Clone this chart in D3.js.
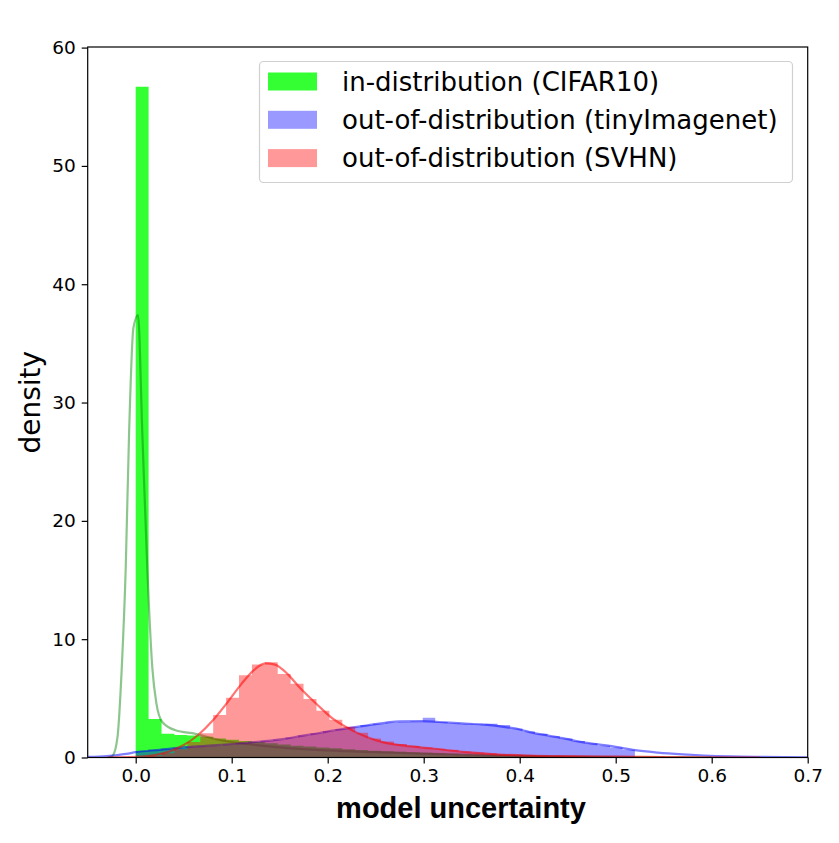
<!DOCTYPE html>
<html>
<head>
<meta charset="utf-8">
<script src="https://cdn.jsdelivr.net/npm/d3@7"></script>
<style>
  body { margin: 0; background: #fff; }
  text { font-family: "DejaVu Sans", sans-serif; }
</style>
</head>
<body>
<script>
// histogram bins (left edge = i * width)
const greenBinWidth = 0.01345;
const greenHist = [56.7, 3.25, 2.0, 1.9, 1.85, 1.75, 1.6, 1.5, 1.4, 1.3, 1.2, 1.1, 1.0, 0.92, 0.85, 0.78,
  0.7, 0.63, 0.57, 0.52, 0.48, 0.44, 0.4, 0.36, 0.32, 0.28, 0.25, 0.22, 0.2, 0.17, 0.15, 0.13, 0.11,
  0.09, 0.08, 0.07, 0.06, 0.05, 0.04, 0.03, 0.02];

const blueBinWidth = 0.013;
const blueHist = [0.55, 0.65, 0.75, 0.8, 0.9, 0.95, 1.0, 1.1, 1.2, 1.3, 1.4, 1.5, 1.7, 1.85, 2.05, 2.25,
  2.4, 2.55, 2.75, 2.85, 2.95, 3.0, 3.05, 3.35, 3.0, 2.9, 2.85, 2.8, 2.85, 2.75, 2.45, 2.2, 2.0, 1.8,
  1.6, 1.4, 1.2, 1.0, 0.85, 0.65];

const redBinWidth = 0.01345;
const redHist = [0.03, 0.12, 0.35, 0.7, 1.3, 2.06, 3.6, 5.06, 6.95, 7.85, 8.05, 7.05, 6.24, 4.95, 3.95,
  3.2, 2.6, 2.1, 1.6, 1.35, 1.15, 0.98, 0.85, 0.75, 0.65, 0.5, 0.42, 0.35, 0.28, 0.24, 0.2, 0.17,
  0.14, 0.12, 0.1, 0.09, 0.08, 0.07, 0.06, 0.06, 0.08];

// kde curves [x, density]
const greenKde = [[-0.028, 0], [-0.024, 0.15], [-0.019, 1.7], [-0.0145, 7.6], [-0.0104, 16], [-0.0069, 27.4],
  [-0.0024, 36.3], [0.0024, 37.4], [0.0069, 27.4], [0.0121, 16], [0.0173, 7.6], [0.0215, 4.6], [0.0277, 3.0],
  [0.0415, 2.3], [0.0622, 2.0], [0.086, 1.5], [0.12, 1.1], [0.15, 0.85], [0.2, 0.6], [0.25, 0.45],
  [0.3, 0.32], [0.35, 0.22], [0.4, 0.14], [0.45, 0.08], [0.5, 0.05], [0.55, 0.02], [0.6, 0]];

const blueKde = [[-0.05, 0.05], [-0.03, 0.12], [-0.01, 0.3], [0.0, 0.45], [0.025, 0.65], [0.052, 0.87],
  [0.08, 1.02], [0.104, 1.16], [0.13, 1.35], [0.155, 1.58], [0.171, 1.8], [0.19, 2.05], [0.207, 2.3],
  [0.24, 2.7], [0.275, 3.05], [0.298, 3.08], [0.316, 3.0], [0.34, 2.88], [0.36, 2.8], [0.385, 2.57],
  [0.4, 2.37], [0.413, 2.1], [0.43, 1.85], [0.447, 1.6], [0.465, 1.3], [0.475, 1.18], [0.5, 0.9],
  [0.52, 0.62], [0.544, 0.42], [0.57, 0.27], [0.592, 0.17], [0.62, 0.09], [0.65, 0.05], [0.7, 0.02]];

const redKde = [[-0.03, 0], [0.0, 0.05], [0.02, 0.2], [0.035, 0.5], [0.05, 1.05], [0.065, 1.9], [0.08, 3.1],
  [0.095, 4.6], [0.11, 6.2], [0.122, 7.3], [0.135, 7.95], [0.145, 7.85], [0.155, 7.3], [0.171, 5.9],
  [0.19, 4.4], [0.205, 3.3], [0.223, 2.4], [0.24, 1.75], [0.257, 1.3], [0.28, 1.0], [0.309, 0.76],
  [0.344, 0.45], [0.378, 0.25], [0.41, 0.16], [0.448, 0.11], [0.5, 0.07], [0.55, 0.04], [0.6, 0.01], [0.65, 0]];

const xTicks = [0.0, 0.1, 0.2, 0.3, 0.4, 0.5, 0.6, 0.7];
const yTicks = [0, 10, 20, 30, 40, 50, 60];
const legendLabels = ["in-distribution (CIFAR10)", "out-of-distribution (tinyImagenet)", "out-of-distribution (SVHN)"];

const width = 839, height = 843;
const plot = {left: 87.7, right: 807.7, top: 47, bottom: 757.5};

const svg = d3.select("body").append("svg")
    .attr("width", width)
    .attr("height", height);

const x = d3.scaleLinear().domain([-0.05, 0.7]).range([plot.left, plot.right]);
const y = d3.scaleLinear().domain([0, 60.05]).range([plot.bottom, plot.top]);

svg.append("clipPath").attr("id", "clip")
  .append("rect")
    .attr("x", plot.left).attr("y", plot.top)
    .attr("width", plot.right - plot.left).attr("height", plot.bottom - plot.top);

const g = svg.append("g").attr("clip-path", "url(#clip)");

const line = d3.line()
    .x(d => x(d[0]))
    .y(d => y(d[1]))
    .curve(d3.curveMonotoneX);

// histogram as one step area so that bars don't show seams
const stepArea = d3.area()
    .x(d => x(d[0]))
    .y0(y(0))
    .y1(d => y(d[1]))
    .curve(d3.curveStepAfter);

function drawDist(hist, binW, kde, color, alpha, lineColor, lineAlpha) {
  const pts = hist.map((h, i) => [i * binW, h]);
  pts.push([hist.length * binW, hist[hist.length - 1]]);

  g.append("path")
    .datum(pts)
    .attr("d", stepArea)
    .attr("fill", color)
    .attr("fill-opacity", alpha);

  g.append("path")
    .datum(kde)
    .attr("d", line)
    .attr("fill", "none")
    .attr("stroke", lineColor)
    .attr("stroke-opacity", lineAlpha)
    .attr("stroke-width", 2.2);
}

drawDist(greenHist, greenBinWidth, greenKde, "#00ff00", 0.8, "#008000", 0.45);
drawDist(blueHist, blueBinWidth, blueKde, "#0000ff", 0.4, "#0000ff", 0.5);
drawDist(redHist, redBinWidth, redKde, "#ff0000", 0.4, "#ff0000", 0.55);

// axes
const xAxis = svg.append("g")
    .attr("transform", `translate(0,${plot.bottom})`)
    .call(d3.axisBottom(x).tickValues(xTicks).tickFormat(d3.format(".1f")).tickSize(6).tickPadding(5));
const yAxis = svg.append("g")
    .attr("transform", `translate(${plot.left},0)`)
    .call(d3.axisLeft(y).tickValues(yTicks).tickSize(6).tickPadding(6));

[xAxis, yAxis].forEach(a => {
  a.select(".domain").remove();
  a.selectAll("line").attr("stroke", "#000").attr("stroke-width", 1.2);
  a.selectAll("text").attr("font-family", "DejaVu Sans").attr("font-size", 18.5).attr("fill", "#000");
});

svg.append("rect")
    .attr("x", plot.left).attr("y", plot.top)
    .attr("width", plot.right - plot.left).attr("height", plot.bottom - plot.top)
    .attr("fill", "none").attr("stroke", "#000").attr("stroke-width", 1.2);

// labels
svg.append("text")
    .attr("x", 461).attr("y", 818)
    .attr("text-anchor", "middle")
    .style("font-family", "'Liberation Sans', Arial, sans-serif")
    .style("font-weight", "bold")
    .style("font-size", "29px")
    .text("model uncertainty");

svg.append("text")
    .attr("transform", `translate(40,${(plot.top + plot.bottom) / 2}) rotate(-90)`)
    .attr("text-anchor", "middle")
    .style("font-size", "28px")
    .text("density");

// legend
const legend = svg.append("g");
legend.append("rect")
    .attr("x", 259.5).attr("y", 61.5).attr("width", 533).attr("height", 121)
    .attr("rx", 4)
    .attr("fill", "#fff").attr("fill-opacity", 0.8)
    .attr("stroke", "#d0d0d0").attr("stroke-width", 1.2);

const legendColors = [["#00ff00", 0.8], ["#0000ff", 0.4], ["#ff0000", 0.4]];
legendLabels.forEach((lab, i) => {
  const cy = 81.5 + i * 38.3;
  legend.append("rect")
      .attr("x", 268).attr("y", cy - 9).attr("width", 49).attr("height", 18)
      .attr("fill", legendColors[i][0]).attr("fill-opacity", legendColors[i][1]);
  legend.append("text")
      .attr("x", 342).attr("y", cy)
      .attr("dy", "0.35em")
      .style("font-size", "26px")
      .text(lab);
});
</script>
</body>
</html>
